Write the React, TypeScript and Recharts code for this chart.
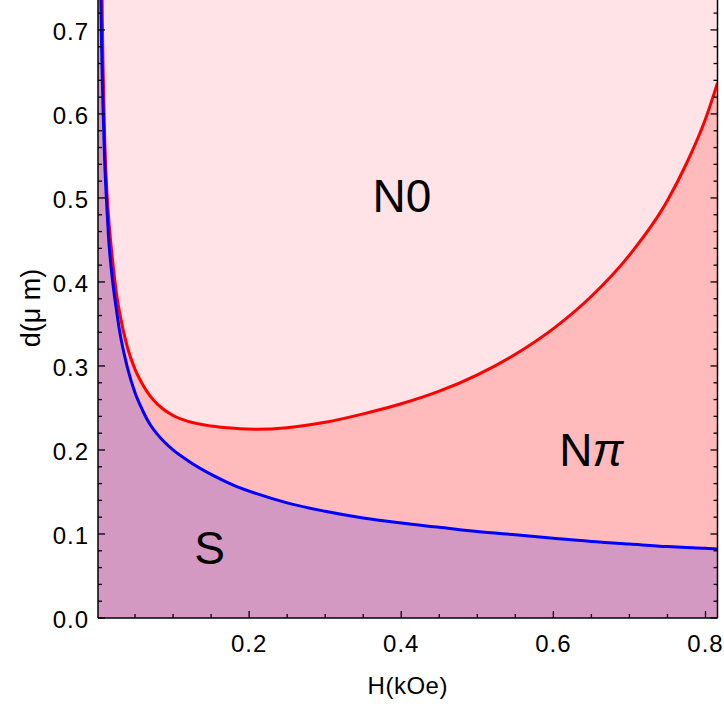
import { Area, CartesianGrid, ComposedChart, ReferenceDot, XAxis, YAxis } from 'recharts';

// field H (kOe) sample points
const H = [
  0.0013, 0.004, 0.005, 0.006, 0.007, 0.008, 0.01, 0.012, 0.015, 0.02, 0.025, 0.03, 0.04, 0.05, 0.06,
  0.07, 0.08, 0.1, 0.12, 0.15, 0.18, 0.21, 0.25, 0.3, 0.35, 0.4, 0.45, 0.5, 0.55, 0.6, 0.65, 0.7,
  0.75, 0.775, 0.8, 0.8158,
];
// S / N-pi boundary (blue)
const dS = [
  1.3, 0.8, 0.74, 0.685, 0.64, 0.605, 0.545, 0.505, 0.455, 0.405, 0.37, 0.34, 0.298, 0.268, 0.247,
  0.23, 0.218, 0.2, 0.187, 0.171, 0.158, 0.148, 0.137, 0.127, 0.119, 0.113, 0.108, 0.103, 0.099,
  0.095, 0.091, 0.088, 0.085, 0.084, 0.083, 0.082,
];
// N-pi / N0 boundary (red)
const dN = [
  1.6, 1.1, 0.95, 0.8, 0.71, 0.655, 0.575, 0.525, 0.48, 0.43, 0.39, 0.362, 0.322, 0.296, 0.278,
  0.264, 0.254, 0.241, 0.234, 0.2285, 0.2258, 0.2247, 0.2265, 0.233, 0.243, 0.255, 0.27, 0.2895,
  0.314, 0.3445, 0.383, 0.432, 0.497, 0.541, 0.594, 0.637,
];

const xTicks = [0.05, 0.1, 0.15, 0.2, 0.25, 0.3, 0.35, 0.4, 0.45, 0.5, 0.55, 0.6, 0.65, 0.7, 0.75, 0.8];
const xMajor = [0.2, 0.4, 0.6, 0.8];
const yTicks = [
  0, 0.02, 0.04, 0.06, 0.08, 0.1, 0.12, 0.14, 0.16, 0.18, 0.2, 0.22, 0.24, 0.26, 0.28, 0.3, 0.32,
  0.34, 0.36, 0.38, 0.4, 0.42, 0.44, 0.46, 0.48, 0.5, 0.52, 0.54, 0.56, 0.58, 0.6, 0.62, 0.64,
  0.66, 0.68, 0.7, 0.72,
];

const regionNames = ['N0', 'Nπ', 'S'];
const regionH = [0.401, 0.65, 0.148];
const regionD = [0.502, 0.2, 0.083];

const data = H.map((h, i) => ({ h, s: dS[i], n: dN[i] }));

const FONT = '"Liberation Sans", Arial, sans-serif';
const isMajorY = (v: number) => Math.abs(v * 10 - Math.round(v * 10)) < 1e-6;
const isMajorX = (v: number) => xMajor.some((m) => Math.abs(m - v) < 1e-6);

function BottomTick({ x, y, payload }: any) {
  const major = isMajorX(payload.value);
  return (
    <g>
      <line x1={x} x2={x} y1={y} y2={y - (major ? 7 : 4)} stroke="#000" strokeWidth={1.3} />
      {major && (
        <text x={x} y={y + 34} textAnchor="middle" fontSize={24} fontFamily={FONT} letterSpacing={1} fill="#000">
          {payload.value.toFixed(1)}
        </text>
      )}
    </g>
  );
}

function TopTick({ x, y, payload }: any) {
  const major = isMajorX(payload.value);
  return <line x1={x} x2={x} y1={y} y2={y + (major ? 7 : 4)} stroke="#000" strokeWidth={1.3} />;
}

function LeftTick({ x, y, payload }: any) {
  const major = isMajorY(payload.value);
  return (
    <g>
      <line x1={x} x2={x + (major ? 7 : 4)} y1={y} y2={y} stroke="#000" strokeWidth={1.3} />
      {major && (
        <text x={x - 9} y={y + 10} textAnchor="end" fontSize={24} fontFamily={FONT} letterSpacing={1} fill="#000">
          {payload.value.toFixed(1)}
        </text>
      )}
    </g>
  );
}

function RightTick({ x, y, payload }: any) {
  const major = isMajorY(payload.value);
  return <line x1={x} x2={x - (major ? 7 : 4)} y1={y} y2={y} stroke="#000" strokeWidth={1.3} />;
}

function RegionText(props: any) {
  const { cx, cy, name } = props;
  if (name === 'Nπ') {
    return (
      <text x={cx} y={cy + 16} textAnchor="middle" fontSize={46} fontFamily={FONT} fill="#000">
        N<tspan fontStyle="italic">π</tspan>
      </text>
    );
  }
  return (
    <text x={cx} y={cy + 16} textAnchor="middle" fontSize={46} fontFamily={FONT} fill="#000">
      {name}
    </text>
  );
}

const axisLine = { stroke: '#000', strokeWidth: 1.5 };

export default function App() {
  return (
    <div style={{ position: 'absolute', left: 0, top: -6 }}>
      <ComposedChart width={724} height={712} data={data} margin={{ top: 4, right: 0, bottom: 0, left: 0 }}>
        <CartesianGrid horizontal={false} vertical={false} fill="#FFE3E6" fillOpacity={1} />
        <XAxis
          dataKey="h"
          type="number"
          domain={[0.0013, 0.8158]}
          allowDataOverflow
          ticks={xTicks}
          interval={0}
          tickSize={0}
          tickMargin={0}
          tickLine={false}
          tick={<BottomTick />}
          axisLine={axisLine}
          height={88}
          label={{
            content: ({ viewBox }: any) => (
              <text
                x={viewBox.x + viewBox.width / 2}
                y={viewBox.y + viewBox.height - 12}
                textAnchor="middle"
                fontSize={24}
                letterSpacing={0.5}
                fontFamily={FONT}
                fill="#000"
              >
                H(kOe)
              </text>
            ),
          }}
        />
        <XAxis
          xAxisId="top"
          dataKey="h"
          type="number"
          orientation="top"
          domain={[0.0013, 0.8158]}
          allowDataOverflow
          ticks={xTicks}
          interval={0}
          tickSize={0}
          tickMargin={0}
          tickLine={false}
          tick={<TopTick />}
          axisLine={axisLine}
          height={0}
        />
        <YAxis
          type="number"
          domain={[0, 0.738]}
          allowDataOverflow
          ticks={yTicks}
          interval={0}
          tickSize={0}
          tickMargin={0}
          tickLine={false}
          tick={<LeftTick />}
          axisLine={axisLine}
          width={98}
          label={{
            content: ({ viewBox }: any) => {
              const cx = viewBox.x + 31;
              const cy = viewBox.y + viewBox.height / 2;
              return (
                <text
                  x={cx}
                  y={cy}
                  transform={`rotate(-90, ${cx}, ${cy})`}
                  textAnchor="middle"
                  dominantBaseline="central"
                  fontSize={27}
                  fontFamily={FONT}
                  fill="#000"
                >
                  d(μ m)
                </text>
              );
            },
          }}
        />
        <YAxis
          yAxisId="right"
          orientation="right"
          type="number"
          domain={[0, 0.738]}
          allowDataOverflow
          ticks={yTicks}
          interval={0}
          tickSize={0}
          tickMargin={0}
          tickLine={false}
          tick={<RightTick />}
          axisLine={axisLine}
          width={6.5}
        />
        <Area
          type="monotone"
          dataKey="n"
          stroke="#FF0000"
          strokeWidth={3}
          fill="#FFBBBB"
          fillOpacity={1}
          dot={false}
          activeDot={false}
          isAnimationActive={false}
        />
        <Area
          type="monotone"
          dataKey="s"
          stroke="#0000FF"
          strokeWidth={3}
          fill="#D499C2"
          fillOpacity={1}
          dot={false}
          activeDot={false}
          isAnimationActive={false}
        />
        {regionNames.map((name, i) => (
          <ReferenceDot
            key={name}
            x={regionH[i]}
            y={regionD[i]}
            r={0}
            shape={(p: any) => <RegionText {...p} name={name} />}
          />
        ))}
      </ComposedChart>
    </div>
  );
}
